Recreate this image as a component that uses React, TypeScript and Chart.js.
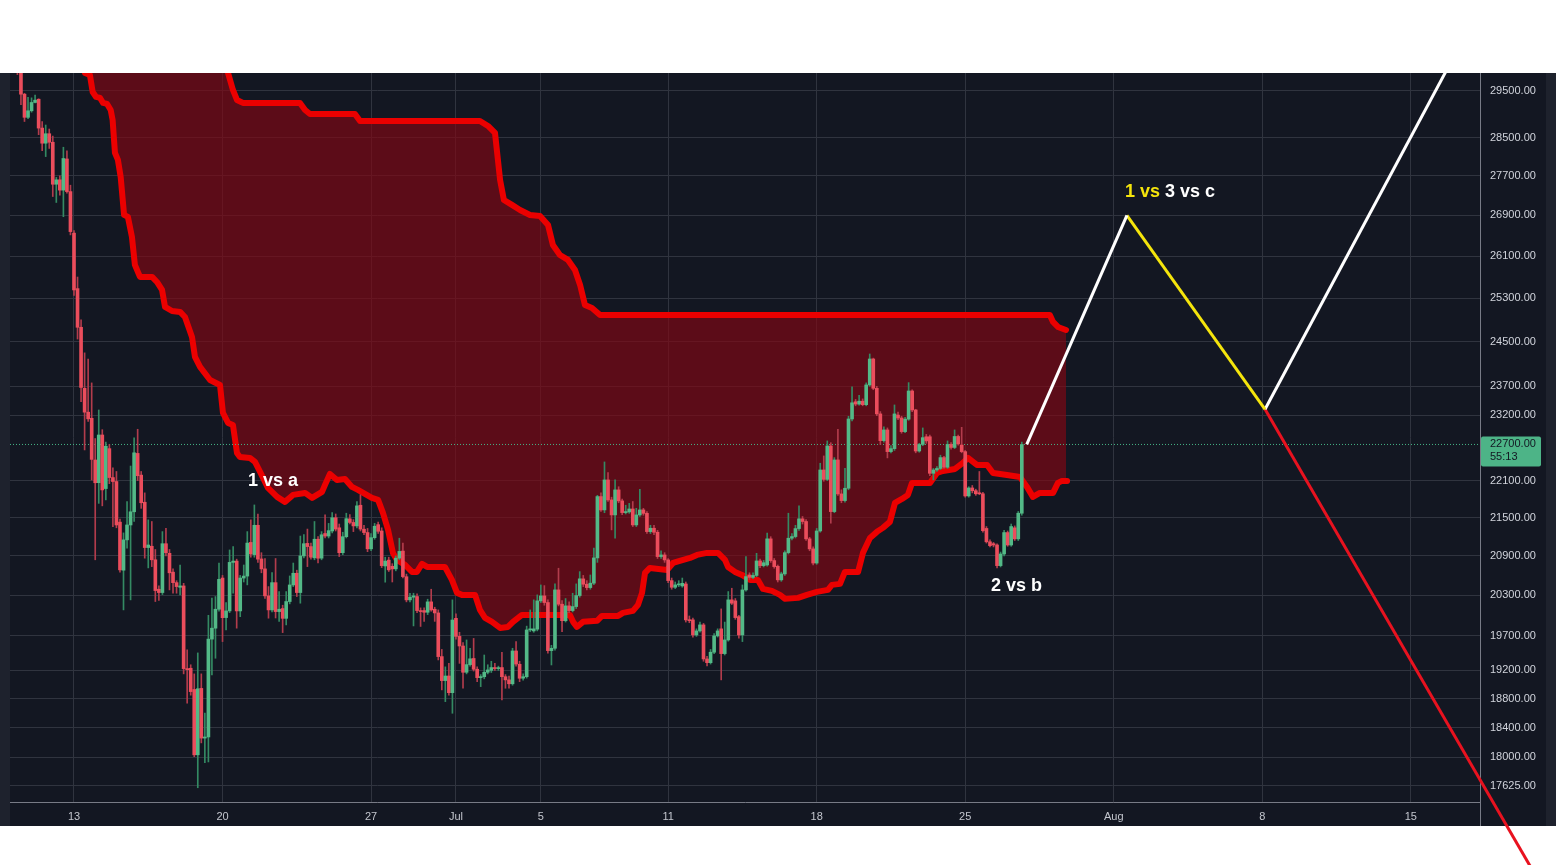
import React, { useEffect, useRef } from "react";
import { Chart, registerables } from "chart.js";

Chart.register(...registerables);
Chart.defaults.font.family = "'Liberation Sans', Arial, sans-serif";

// ---------- time axis (days relative to 13 Jun 00:00), 4h candles ----------
const FIRST_CANDLE_DAY = -16 / 6;
const CANDLE_STEP_DAYS = 1 / 6;

const OPEN = [
  30300, 29960, 29430, 28930, 29070, 29250, 29320, 28700, 28380, 28580,
  28400, 27530, 27620, 27410, 28050, 27380, 26550, 25480, 24760, 23665,
  23250, 23145, 22440, 22066, 22860, 21970, 22630, 22150, 22085, 21430,
  20680, 21150, 21385, 21595, 22550, 22190, 21748, 21030, 21050, 20840,
  20390, 20340, 21090, 20940, 20650, 20490, 20420, 20440, 19225, 19230,
  18930, 18035, 18945, 18260, 18275, 19650, 19810, 20090, 20560, 19966,
  20065, 20800, 20820, 20065, 20560, 20590, 21110, 20920, 21380, 20853,
  20700, 20290, 20080, 20490, 20055, 20100, 19955, 20205, 20455, 20633,
  20340, 20900, 21095, 21045, 20870, 21160, 20865, 21250, 21210, 21290,
  21500, 21340, 20950, 21200, 21482, 21425, 21370, 21700, 21318, 21265,
  21010, 21185, 21390, 21290, 20745, 20835, 20740, 20700, 20865, 20975,
  20580, 20230, 20270, 20280, 20070, 20070, 20045, 20200, 20090, 20035,
  19397, 19055, 19120, 18885, 19955, 19690, 19550, 19173, 19282, 19370,
  19216, 19097, 19110, 19173, 19200, 19240, 19225, 19240, 19110, 19065,
  19010, 19478, 19287, 19089, 19110, 19784, 19770, 19795, 20215, 20290,
  20190, 19483, 19517, 20380, 20165, 19920, 20140, 20070, 20130, 20295,
  20547, 20466, 20415, 20482, 20869, 21840, 21625, 22111, 21786, 21545,
  21948, 21770, 21582, 21593, 21640, 21386, 21545, 21625, 21570, 21280,
  21333, 21270, 20890, 20915, 20838, 20521, 20420, 20456, 20440, 20470,
  19932, 19932, 19711, 19770, 19858, 19363, 19310, 19460, 19697, 19800,
  19440, 19638, 20230, 20215, 19980, 19711, 20380, 20607, 20570, 20600,
  20822, 20750, 20760, 21166, 20828, 20740, 20532, 20623, 20951, 21176,
  21202, 21328, 21482, 21440, 21166, 21009, 20790, 21290, 22275, 22120,
  22675, 21598, 22441, 21883, 21775, 21975, 23133, 23430, 23390, 23440,
  23380, 23724, 24185, 23665, 23220, 22765, 22946, 22580, 22630, 23200,
  23150, 22917, 23130, 23618, 23288, 22590, 22700, 22830, 22830, 22220,
  22275, 22300, 22480, 22320, 22700, 22650, 22835, 22690, 22580, 21850,
  21980, 21935, 21895, 21885, 21330, 21120, 21090, 21070, 20750, 20930,
  21265, 21070, 21340, 21166, 21572,
];

const HIGH = [
  30450, 30050, 29450, 29360, 29350, 29410, 29330, 28840, 28765, 28680,
  28530, 27670, 27700, 28295, 28220, 27510, 26600, 25700, 24895, 24295,
  24185, 23760, 22800, 23288, 22950, 22740, 22700, 22310, 22250, 21480,
  21260, 21760, 22340, 22810, 22957, 22250, 21900, 21466, 21440, 21000,
  20440, 21280, 21333, 21000, 20700, 20520, 20760, 20480, 19493, 19280,
  19150, 19450, 19150, 18600, 20000, 20255, 20280, 20790, 20600, 20190,
  20993, 21045, 20850, 20600, 20760, 21280, 21466, 21705, 21560, 20950,
  20860, 20430, 20642, 20860, 20355, 20150, 20355, 20592, 20790, 20680,
  21210, 21235, 21320, 21100, 21440, 21200, 21280, 21545, 21410, 21582,
  21560, 21400, 21270, 21572, 21550, 21470, 21760, 21870, 21380, 21330,
  21250, 21410, 21430, 21340, 20880, 20880, 20780, 20900, 21176, 21100,
  20620, 20330, 20330, 20320, 20110, 20110, 20240, 20390, 20120, 20080,
  19500, 19250, 19300, 20230, 20020, 19750, 19600, 19638, 19517, 19660,
  19250, 19140, 19420, 19280, 19330, 19300, 19260, 19460, 19140, 19120,
  19517, 19614, 19330, 19150, 19840, 20080, 20230, 20305, 20455, 20445,
  20230, 19560, 20471, 20710, 20220, 20250, 20200, 20330, 20471, 20658,
  20600, 20520, 20607, 21020, 21860, 21900, 22408, 22230, 21830, 22111,
  22000, 21800, 21700, 21730, 21760, 21650, 21958, 21650, 21600, 21380,
  21380, 21300, 20980, 20950, 20860, 20560, 20500, 20520, 20560, 20500,
  19990, 19960, 19800, 19900, 19880, 19400, 19500, 19730, 19800, 20095,
  19900, 20355, 20405, 20250, 20000, 20455, 20890, 20640, 20640, 20940,
  20850, 20830, 21255, 21200, 20860, 20760, 20650, 20980, 21572, 21250,
  21380, 21690, 21520, 21470, 21190, 21040, 21330, 22386, 22508, 22760,
  22730, 22480, 22958, 21950, 22300, 23180, 23692, 23470, 23540, 23480,
  23760, 24275, 24200, 23700, 23260, 23000, 22980, 22680, 23375, 23250,
  23180, 23160, 23765, 23640, 23300, 22720, 22980, 22870, 22860, 22300,
  22330, 22520, 22500, 22760, 22730, 22946, 22860, 22990, 22600, 22000,
  22020, 21960, 22250, 21910, 21360, 21150, 21110, 21090, 20960, 21300,
  21290, 21400, 21370, 21600, 22740,
];

const LOW = [
  29860, 29200, 28840, 28900, 29040, 29240, 28560, 28225, 28100, 28270,
  27280, 27160, 27310, 26875, 27350, 26515, 25350, 24545, 23430, 22608,
  23090, 22110, 20840, 21730, 21690, 21786, 22050, 21360, 21340, 20650,
  20080, 21020, 20230, 21440, 22100, 21650, 20865, 20715, 20735, 20205,
  20220, 20310, 20900, 20380, 20330, 20330, 20305, 19150, 18740, 18850,
  18010, 17600, 18195, 17930, 17940, 19135, 19373, 20060, 19614, 19784,
  20040, 20330, 19810, 19980, 20500, 20456, 20880, 20880, 20800, 20640,
  20250, 19957, 20050, 19960, 19908, 19745, 19858, 20170, 20430, 20280,
  20180, 20870, 20735, 20850, 20840, 20790, 20840, 21180, 21180, 21260,
  21290, 20890, 20920, 21180, 21400, 21280, 21340, 21290, 21230, 20966,
  20980, 21160, 21250, 20720, 20497, 20660, 20500, 20670, 20840, 20560,
  20200, 20200, 19843, 20040, 19835, 19910, 20010, 20060, 19910, 19349,
  18924, 18760, 18850, 18599, 19650, 19300, 18947, 19150, 19260, 19190,
  19040, 18970, 19080, 19150, 19170, 19200, 19200, 18784, 18947, 18950,
  18990, 19260, 19040, 19060, 19090, 19760, 19750, 19770, 20190, 20150,
  19445, 19277, 19490, 20140, 19760, 19900, 20040, 20050, 20100, 20270,
  20430, 20380, 20390, 20460, 20800, 21600, 21580, 21760, 21307, 21176,
  21740, 21550, 21560, 21570, 21360, 21360, 21520, 21540, 21250, 21250,
  21230, 20860, 20860, 20800, 20490, 20390, 20400, 20430, 20420, 19900,
  19890, 19680, 19690, 19750, 19330, 19263, 19290, 19440, 19680, 19065,
  19420, 19620, 20160, 19940, 19663, 19614, 20360, 20540, 20550, 20580,
  20720, 20730, 20740, 20800, 20710, 20500, 20510, 20600, 20930, 21150,
  21180, 21300, 21400, 21140, 20980, 20760, 20770, 21270, 22090, 22100,
  21413, 21580, 21860, 21740, 21750, 21950, 23100, 23360, 23370, 23360,
  23360, 23700, 23640, 23190, 22700, 22740, 22475, 22560, 22600, 23120,
  22890, 22900, 23110, 23260, 22560, 22570, 22680, 22720, 22180, 22111,
  22250, 22280, 22300, 22300, 22620, 22630, 22690, 22560, 21830, 21830,
  21900, 21860, 21870, 21270, 21100, 21040, 21040, 20715, 20730, 20900,
  21050, 21050, 21140, 21140, 21540,
];

const CLOSE = [
  29960, 29430, 28930, 29070, 29250, 29300, 28700, 28380, 28580, 28400,
  27530, 27620, 27410, 28060, 27380, 26580, 25455, 24760, 23680, 23250,
  23135, 22450, 22065, 22860, 21948, 22670, 22150, 22085, 21385, 20685,
  21150, 21385, 21595, 22560, 22180, 21740, 21030, 21070, 20840, 20370,
  20340, 21090, 20950, 20640, 20490, 20430, 20440, 19225, 19210, 18900,
  18035, 18940, 18260, 18275, 19650, 19810, 20090, 20540, 19965, 20065,
  20800, 20820, 20065, 20560, 20590, 21100, 20930, 21380, 20850, 20700,
  20290, 20080, 20490, 20055, 20090, 19955, 20205, 20455, 20633, 20340,
  20900, 21090, 21045, 20880, 21160, 20865, 21230, 21210, 21295, 21500,
  21320, 20950, 21200, 21485, 21425, 21370, 21690, 21320, 21265, 21010,
  21185, 21365, 21285, 20750, 20820, 20685, 20700, 20865, 20970, 20582,
  20230, 20270, 20290, 20070, 20055, 20045, 20200, 20080, 20035, 19397,
  19055, 19120, 18885, 19930, 19690, 19550, 19173, 19282, 19365, 19216,
  19097, 19110, 19173, 19206, 19240, 19225, 19235, 19110, 19065, 19010,
  19478, 19290, 19088, 19110, 19784, 19800, 19800, 20215, 20290, 20190,
  19483, 19517, 20380, 20165, 19920, 20140, 20070, 20130, 20295, 20548,
  20466, 20415, 20482, 20869, 21840, 21625, 22111, 21786, 21545, 21948,
  21770, 21582, 21593, 21640, 21386, 21545, 21625, 21570, 21280, 21333,
  21270, 20890, 20915, 20838, 20521, 20420, 20456, 20470, 20480, 19932,
  19920, 19711, 19770, 19858, 19363, 19310, 19460, 19697, 19770, 19440,
  19638, 20230, 20180, 19966, 19711, 20380, 20582, 20570, 20600, 20822,
  20750, 20795, 21166, 20828, 20735, 20532, 20623, 20951, 21176, 21202,
  21328, 21482, 21440, 21166, 21009, 20790, 21290, 22275, 22120, 22675,
  21598, 22441, 21883, 21775, 21975, 23133, 23412, 23390, 23440, 23380,
  23724, 24185, 23665, 23220, 22765, 22946, 22580, 22630, 23220, 23150,
  22917, 23130, 23618, 23288, 22590, 22700, 22815, 22760, 22220, 22275,
  22300, 22480, 22320, 22700, 22650, 22835, 22710, 22580, 21850, 21980,
  21935, 21885, 21885, 21295, 21120, 21060, 21070, 20750, 20930, 21265,
  21070, 21360, 21166, 21572, 22700,
];

// ---------- cloud spans (days, prices) ----------
const SPAN_A_DAYS = [
  0.05, 0.52, 0.75, 0.88, 1.04, 1.23, 1.37, 1.56, 1.73, 1.82,
  1.93, 2.07, 2.2, 2.36, 2.54, 2.73, 2.87, 3.11, 3.68, 3.91,
  4.15, 4.29, 4.62, 5.0, 5.23, 5.56, 5.7, 5.94, 6.41, 6.88,
  7.02, 7.26, 7.49, 7.68, 7.82, 8.29, 8.53, 8.77, 9.14, 9.57,
  9.94, 10.32, 10.89, 11.22, 11.69, 11.83, 12.06, 12.39, 12.77, 13.1,
  13.38, 13.71, 14.04, 14.33, 14.56, 14.8, 15.03, 15.22, 15.6, 15.93,
  16.16, 16.4, 16.64, 17.48, 17.81, 18.05, 18.28, 18.9, 19.13, 19.37,
  19.7, 20.08, 20.45, 20.69, 21.11, 23.37, 23.52, 23.7, 23.99, 24.65,
  24.88, 25.64, 25.87, 26.34, 26.58, 26.77, 26.91, 27.14, 27.95, 28.23,
  29.03, 29.36, 29.83, 30.35, 30.68, 30.82, 31.15, 31.48, 31.86, 32.23,
  32.47, 32.89, 33.27, 33.51, 34.12, 34.54, 35.01, 35.53, 35.72, 36.1,
  36.33, 36.95, 37.18, 37.51, 37.84, 38.12, 38.45, 38.69, 39.02, 39.3,
  39.49, 40.34, 40.67, 40.95, 41.52, 41.89, 42.13, 42.55, 43.03, 43.31,
  43.97, 44.58, 44.91, 45.19, 45.52, 46.14, 46.37, 46.56, 46.8,
];
const SPAN_A_PRICES = [
  30410, 29896, 29852, 29478, 29370, 29348, 29240, 29218, 29088, 28873,
  28177, 28030, 27678, 26910, 26870, 26475, 25931, 25702, 25702, 25606,
  25455, 25136, 25061, 25043, 24950, 24584, 24222, 24043, 23812, 23724,
  23236, 23065, 23031, 22558, 22491, 22475, 22408, 22242, 21980, 21835,
  21754, 21867, 21899, 21818, 21916, 22029, 22209, 22111, 22127, 21997,
  21948, 21883, 21818, 21786, 21577, 21307, 20947, 20838, 20761, 20654,
  20654, 20776, 20730, 20730, 20532, 20335, 20305, 20305, 20080, 19962,
  19903, 19814, 19828, 19903, 20006, 20006, 19903, 19828, 19903, 19918,
  19991, 19991, 20036, 20066, 20155, 20335, 20639, 20715, 20684, 20791,
  20869, 20916, 20947, 20947, 20838, 20730, 20654, 20608, 20532, 20532,
  20395, 20365, 20305, 20245, 20260, 20305, 20350, 20380, 20456, 20471,
  20654, 20654, 20947, 21181, 21276, 21339, 21434, 21738, 21802, 21867,
  22062, 22062, 22226, 22259, 22292, 22391, 22475, 22358, 22358, 22226,
  22193, 22160, 21997, 21835, 21899, 21899, 22062, 22095, 22095,
];
const SPAN_B_DAYS = [
  -3.1, 5.5, 6.97, 7.26, 7.49, 7.68, 7.96, 10.65, 10.89, 11.12,
  13.24, 13.48, 19.13, 19.51, 19.84, 20.08, 20.26, 20.64, 21.02, 21.49,
  21.96, 22.34, 22.57, 22.9, 23.28, 23.61, 23.85, 24.08, 24.41, 24.79,
  45.99, 46.14, 46.37, 46.75,
];
const SPAN_B_PRICES = [
  32500, 31200, 30637, 29896, 29522, 29304, 29240, 29240, 29088, 29002,
  29002, 28852, 28852, 28745, 28597, 27617, 27211, 27111, 27010, 26910,
  26890, 26711, 26318, 26124, 26028, 25835, 25550, 25173, 25117, 24987,
  24987, 24858, 24766, 24711,
];

// ---------- projection legs ----------
const PROJ_UP1_DAYS = [44.9, 49.62];
const PROJ_UP1_PRICES = [22700, 26900];
const PROJ_DOWN_DAYS = [49.62, 56.13];
const PROJ_DOWN_PRICES = [26900, 23300];
const PROJ_UP2_DAYS = [56.13, 66.5];
const PROJ_UP2_PRICES = [23300, 31600];
const PROJ_RED_DAYS = [56.13, 68.75];
const PROJ_RED_PRICES = [23300, 16550];

// ---------- axes ----------
const X_TICK_DAYS = [0, 7, 14, 18, 22, 28, 35, 42, 49, 56, 63];
const X_TICK_LABELS = ["13", "20", "27", "Jul", "5", "11", "18", "25", "Aug", "8", "15"];
const Y_TICKS = [
  17625, 18000, 18400, 18800, 19200, 19700, 20300, 20900, 21500, 22100,
  23200, 23700, 24500, 25300, 26100, 26900, 27700, 28500, 29500,
];
const X_MIN = -3.016;
const X_MAX = 66.26;
const Y_MIN = 17415;
const Y_MAX = 29896;

const LAST_PRICE = 22700;
const COUNTDOWN = "55:13";

// ---------- annotations ----------
const ANNOTATIONS = [
  { day: 8.2, price: 22095, parts: [{ text: "1 vs a", tone: "white" }] },
  { day: 43.21, price: 20440, parts: [{ text: "2 vs b", tone: "white" }] },
  {
    day: 49.53,
    price: 27373,
    parts: [
      { text: "1 vs ", tone: "yellow" },
      { text: "3 vs c", tone: "white" },
    ],
  },
];

const TONES: Record<string, string> = { white: "#ffffff", yellow: "#f5e50c" };

const pairs = (xs: number[], ys: number[]) => xs.map((x, i) => ({ x, y: ys[i] }));

const backgroundPlugin = {
  id: "tvBackground",
  beforeDraw(chart: any) {
    const { ctx, width, height, chartArea } = chart;
    const bottom = chart.scales.x.bottom;
    ctx.save();
    ctx.fillStyle = "#ffffff";
    ctx.fillRect(0, 0, width, height);
    ctx.fillStyle = "#131722";
    ctx.fillRect(0, chartArea.top, width, bottom - chartArea.top);
    ctx.fillStyle = "#1e222d";
    ctx.fillRect(0, chartArea.top, chartArea.left, bottom - chartArea.top);
    ctx.fillRect(width - 10, chartArea.top, 10, bottom - chartArea.top);
    ctx.strokeStyle = "#787b86";
    ctx.lineWidth = 1;
    ctx.beginPath();
    ctx.moveTo(chartArea.right + 0.5, chartArea.bottom);
    ctx.lineTo(chartArea.right + 0.5, bottom);
    ctx.stroke();
    ctx.restore();
  },
};

const overlayPlugin = {
  id: "tvOverlay",
  afterDraw(chart: any) {
    const { ctx, chartArea } = chart;
    const xs = chart.scales.x;
    const ys = chart.scales.y;
    ctx.save();
    ctx.font = "bold 18px 'Liberation Sans', Arial, sans-serif";
    ctx.textBaseline = "middle";
    ctx.textAlign = "left";
    for (const a of ANNOTATIONS) {
      let x = xs.getPixelForValue(a.day);
      const y = ys.getPixelForValue(a.price);
      for (const p of a.parts) {
        ctx.fillStyle = TONES[p.tone];
        ctx.fillText(p.text, x, y);
        x += ctx.measureText(p.text).width;
      }
    }
    // last price label on the axis
    const py = ys.getPixelForValue(LAST_PRICE);
    const left = chartArea.right + 1;
    ctx.fillStyle = "#4db487";
    ctx.beginPath();
    (ctx as any).roundRect(left, py - 8, 60, 30, 2);
    ctx.fill();
    ctx.fillStyle = "#131722";
    ctx.font = "11px 'Liberation Sans', Arial, sans-serif";
    ctx.fillText(LAST_PRICE.toFixed(2), left + 9, py);
    ctx.fillText(COUNTDOWN, left + 9, py + 13);
    ctx.restore();
  },
};

export default function App() {
  const ref = useRef<HTMLCanvasElement>(null);

  useEffect(() => {
    const canvas = ref.current;
    if (!canvas) return;
    const candleDays = OPEN.map((_, i) => FIRST_CANDLE_DAY + i * CANDLE_STEP_DAYS);
    const up = OPEN.map((o, i) => CLOSE[i] >= o);

    const chart = new Chart(canvas, {
      type: "bar",
      data: {
        datasets: [
          {
            type: "line",
            label: "spanA",
            data: pairs(SPAN_A_DAYS, SPAN_A_PRICES),
            borderColor: "#eb0000",
            borderWidth: 6,
            pointRadius: 0,
            tension: 0,
            fill: false,
            borderJoinStyle: "round",
            borderCapStyle: "round",
            clip: 0,
            order: 5,
          },
          {
            type: "line",
            label: "spanB",
            data: pairs(SPAN_B_DAYS, SPAN_B_PRICES),
            borderColor: "#eb0000",
            borderWidth: 6,
            pointRadius: 0,
            tension: 0,
            fill: "-1",
            backgroundColor: "rgba(130,8,20,0.66)",
            borderJoinStyle: "round",
            borderCapStyle: "round",
            clip: 0,
            order: 5,
          },
          {
            type: "line",
            label: "last",
            data: [
              { x: X_MIN, y: LAST_PRICE },
              { x: X_MAX, y: LAST_PRICE },
            ],
            borderColor: "#45b386",
            borderWidth: 1,
            borderDash: [1, 2],
            pointRadius: 0,
            fill: false,
            order: 3,
          },
          {
            type: "bar",
            label: "wicks",
            data: candleDays.map((d, i) => ({ x: d, y: [LOW[i], HIGH[i]] })),
            backgroundColor: up.map((u) => (u ? "#348a63" : "#b23c4c")),
            barThickness: 1,
            grouped: false,
            minBarLength: 1,
            order: 2,
          },
          {
            type: "bar",
            label: "bodies",
            data: candleDays.map((d, i) => ({ x: d, y: [OPEN[i], CLOSE[i]] })),
            backgroundColor: up.map((u) => (u ? "#53b987" : "#eb4d5c")),
            barThickness: 3,
            grouped: false,
            minBarLength: 1,
            order: 1,
          },
          {
            type: "line",
            label: "up1",
            data: pairs(PROJ_UP1_DAYS, PROJ_UP1_PRICES),
            borderColor: "#ffffff",
            borderWidth: 3,
            pointRadius: 0,
            fill: false,
            clip: false,
            order: 0,
          },
          {
            type: "line",
            label: "down",
            data: pairs(PROJ_DOWN_DAYS, PROJ_DOWN_PRICES),
            borderColor: "#f5e50c",
            borderWidth: 3,
            pointRadius: 0,
            fill: false,
            clip: false,
            order: 0,
          },
          {
            type: "line",
            label: "up2",
            data: pairs(PROJ_UP2_DAYS, PROJ_UP2_PRICES),
            borderColor: "#ffffff",
            borderWidth: 3,
            pointRadius: 0,
            fill: false,
            clip: false,
            order: 0,
          },
          {
            type: "line",
            label: "red",
            data: pairs(PROJ_RED_DAYS, PROJ_RED_PRICES),
            borderColor: "#e8121f",
            borderWidth: 3,
            pointRadius: 0,
            fill: false,
            clip: false,
            order: 0,
          },
        ],
      } as any,
      options: {
        responsive: false,
        animation: false,
        events: [],
        layout: { padding: { top: 73, left: 10, right: 0, bottom: 39 } },
        plugins: {
          legend: { display: false },
          tooltip: { enabled: false },
        },
        scales: {
          x: {
            type: "linear",
            min: X_MIN,
            max: X_MAX,
            bounds: "data",
            offset: false,
            afterBuildTicks: (s: any) => {
              s.ticks = X_TICK_DAYS.map((v) => ({ value: v }));
            },
            afterFit: (s: any) => {
              s.height = 24;
            },
            ticks: {
              autoSkip: false,
              maxRotation: 0,
              padding: 8,
              color: "#c3c6ce",
              font: { size: 11 },
              callback: (_v: any, i: number) => X_TICK_LABELS[i],
            },
            grid: { color: "#30343f", drawTicks: false, offset: false },
            border: { color: "#787b86" },
          },
          y: {
            type: "logarithmic",
            position: "right",
            min: Y_MIN,
            max: Y_MAX,
            bounds: "data",
            beginAtZero: false,
            afterBuildTicks: (s: any) => {
              s.ticks = Y_TICKS.map((v) => ({ value: v }));
            },
            afterFit: (s: any) => {
              s.width = 76;
            },
            ticks: {
              autoSkip: false,
              padding: 10,
              crossAlign: "near",
              color: "#d1d4dc",
              font: { size: 11 },
              callback: (v: any) => Number(v).toFixed(2),
            },
            grid: { color: "#30343f", drawTicks: false },
            border: { color: "#787b86" },
          },
        },
      } as any,
      plugins: [backgroundPlugin, overlayPlugin],
    });
    return () => chart.destroy();
  }, []);

  return (
    <div style={{ position: "fixed", left: 0, top: 0, width: 1556, height: 865, background: "#ffffff" }}>
      <canvas ref={ref} width={1556} height={865} style={{ display: "block" }} />
    </div>
  );
}
